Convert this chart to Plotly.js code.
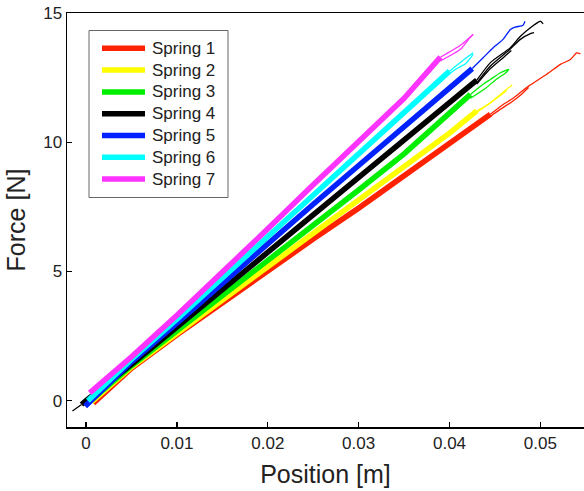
<!DOCTYPE html>
<html>
<head>
<meta charset="utf-8">
<script src="https://cdn.plot.ly/plotly-3.0.1.min.js"></script>
<style>html,body{margin:0;padding:0;background:#fff;overflow:hidden}#chart{width:584px;height:491px}</style>
</head>
<body>
<div id="chart"></div>
<script>
// Series names and colours
const springNames = ["Spring 1","Spring 2","Spring 3","Spring 4","Spring 5","Spring 6","Spring 7"];
const springColors = ["#ff2200","#ffff00","#00ee00","#000000","#0022ff","#00ffff","#ff33ff"];

// Spring 1 (main band + thin tail strands)
const s1X = [0.0008,0.005,0.010,0.015,0.020,0.025,0.030,0.035,0.040,0.0445];
const s1Y = [-0.1,1.25,2.55,3.8,5.0,6.25,7.45,8.7,9.95,11.08];
const s1TailX = [0.0445,0.0459,0.0470,0.0478,0.0487,0.0507,0.0522,0.0533,0.0540,0.0544];
const s1TailY = [11.08,11.46,11.70,11.92,12.17,12.63,13.01,13.20,13.46,13.42];
const s1BackX = [0.0487,0.0478,0.0468,0.0455,0.0445];
const s1BackY = [12.12,11.82,11.55,11.25,11.00];

// Spring 2
const s2X = [0.0006,0.005,0.010,0.015,0.020,0.025,0.030,0.035,0.040,0.043];
const s2Y = [-0.05,1.3,2.6,3.9,5.2,6.45,7.75,9.05,10.35,11.21];
const s2TailX = [0.043,0.0445,0.0456,0.0463,0.0469];
const s2TailY = [11.21,11.53,11.85,12.05,12.21];
const s2BackX = [0.0463,0.0452,0.0440,0.043];
const s2BackY = [12.0,11.7,11.4,11.15];

// Spring 3
const s3X = [0.0005,0.005,0.010,0.015,0.020,0.025,0.030,0.035,0.040,0.0423];
const s3Y = [0.0,1.35,2.7,4.05,5.45,6.8,8.15,9.55,11.1,11.85];
const s3TailX = [0.0423,0.0437,0.0445,0.0456,0.0462,0.0465,0.0462,0.0452,0.0440,0.0423];
const s3TailY = [11.85,12.24,12.43,12.69,12.78,12.82,12.69,12.45,12.1,11.7];

// Spring 4
const s4X = [-0.0005,0.0,0.005,0.010,0.015,0.020,0.025,0.030,0.035,0.040,0.043];
const s4Y = [-0.15,0.0,1.4,2.85,4.3,5.75,7.2,8.6,10.05,11.55,12.4];
const s4StartX = [-0.0015,-0.0005];
const s4StartY = [-0.4,-0.15];
const s4TailX = [0.043,0.0445,0.0467,0.0478,0.0489,0.0500,0.0503];
const s4TailY = [12.4,13.08,13.66,14.10,14.43,14.68,14.58];
const s4BackX = [0.043,0.0445,0.0465,0.0478,0.0489,0.0493];
const s4BackY = [12.3,12.95,13.55,13.98,14.20,14.24];
const s4MidX = [0.043,0.0445,0.046,0.0468];
const s4MidY = [12.25,12.85,13.3,13.55];

// Spring 5
const s5X = [-0.0001,0.005,0.010,0.015,0.020,0.025,0.030,0.035,0.040,0.0425];
const s5Y = [-0.22,1.5,3.0,4.55,6.05,7.6,9.1,10.6,12.1,12.85];
const s5TailX = [0.0425,0.0437,0.0450,0.0459,0.0467,0.0472,0.0481,0.0483];
const s5TailY = [12.85,13.27,13.72,13.98,14.36,14.45,14.53,14.68];

// Spring 6
const s6X = [0.0002,0.005,0.010,0.015,0.020,0.025,0.030,0.035,0.040];
const s6Y = [0.0,1.6,3.15,4.75,6.35,7.9,9.5,11.15,12.75];
const s6TailX = [0.040,0.0415,0.0426];
const s6TailY = [12.75,13.17,13.46];
const s6BackX = [0.0426,0.0418,0.0408,0.040];
const s6BackY = [13.40,13.05,12.85,12.65];

// Spring 7
const s7X = [0.0004,0.005,0.010,0.015,0.020,0.025,0.030,0.035,0.039];
const s7Y = [0.3,1.7,3.3,4.95,6.65,8.35,10.05,11.7,13.29];
const s7TailX = [0.039,0.0412,0.0426];
const s7TailY = [13.29,13.75,14.17];
const s7BackX = [0.0426,0.0423,0.0412,0.039];
const s7BackY = [14.17,14.07,13.6,13.15];

// Axis ticks
const xTicks = [0,0.01,0.02,0.03,0.04,0.05];
const xTickText = ["0","0.01","0.02","0.03","0.04","0.05"];
const yTicks = [0,5,10,15];
const yTickText = ["0","5","10","15"];

const mains = [[s1X,s1Y],[s2X,s2Y],[s3X,s3Y],[s4X,s4Y],[s5X,s5Y],[s6X,s6Y],[s7X,s7Y]];
const tails = [
  [[s1TailX,s1TailY],[s1BackX,s1BackY]],
  [[s2TailX,s2TailY],[s2BackX,s2BackY]],
  [[s3TailX,s3TailY]],
  [[s4TailX,s4TailY],[s4BackX,s4BackY],[s4MidX,s4MidY],[s4StartX,s4StartY]],
  [[s5TailX,s5TailY]],
  [[s6TailX,s6TailY],[s6BackX,s6BackY]],
  [[s7TailX,s7TailY],[s7BackX,s7BackY]]
];

const traces = [];
for (let i = 0; i < 7; i++) {
  traces.push({
    x: mains[i][0], y: mains[i][1], type: 'scatter', mode: 'lines',
    name: springNames[i], legendgroup: 'g' + i, showlegend: false,
    line: {color: springColors[i], width: 5.5, shape: 'linear'}
  });
  tails[i].forEach(function (t) {
    traces.push({
      x: t[0], y: t[1], type: 'scatter', mode: 'lines',
      name: springNames[i], legendgroup: 'g' + i, showlegend: false,
      line: {color: springColors[i], width: 1.3, shape: 'spline', smoothing: 0.6}
    });
  });
}

const font = {family: '"Liberation Sans", Arial, sans-serif', color: '#222'};

// Legend box drawn in paper coordinates (plot area: 67..584 px wide, 13..427 px tall)
const plotL = 67, plotW = 517, plotT = 13, plotH = 414;
function px2x(px) { return (px - plotL) / plotW; }
function py2y(py) { return 1 - (py - plotT) / plotH; }

const shapes = [{
  type: 'rect', xref: 'paper', yref: 'paper',
  x0: px2x(89), x1: px2x(228), y0: py2y(197.5), y1: py2y(30.5),
  line: {color: '#666', width: 1}, fillcolor: '#fff', layer: 'above'
}];
const annotations = [];
for (let i = 0; i < 7; i++) {
  const rowY = py2y(48.3 + 21.8 * i);
  shapes.push({
    type: 'line', xref: 'paper', yref: 'paper',
    x0: px2x(102), x1: px2x(145), y0: rowY, y1: rowY,
    line: {color: springColors[i], width: 5.5}, layer: 'above'
  });
  annotations.push({
    xref: 'paper', yref: 'paper', x: px2x(150), y: rowY,
    xanchor: 'left', yanchor: 'middle', showarrow: false,
    text: springNames[i], font: Object.assign({size: 17}, font)
  });
}

const layout = {
  width: 584, height: 491,
  margin: {l: 67, r: 0, t: 13, b: 64, pad: 0},
  paper_bgcolor: '#fff', plot_bgcolor: '#fff',
  font: Object.assign({size: 17}, font),
  showlegend: false,
  shapes: shapes,
  annotations: annotations,
  xaxis: {
    range: [-0.0021, 0.0548],
    tickmode: 'array', tickvals: xTicks, ticktext: xTickText,
    ticks: 'inside', ticklen: 5, tickwidth: 1.2, tickcolor: '#000',
    showline: true, linecolor: '#000', linewidth: 1.5, mirror: true,
    showgrid: false, zeroline: false,
    tickfont: Object.assign({size: 17}, font),
    title: {text: 'Position [m]', font: Object.assign({size: 25}, font), standoff: 13}
  },
  yaxis: {
    range: [-1.02, 15],
    tickmode: 'array', tickvals: yTicks, ticktext: yTickText,
    ticks: 'inside', ticklen: 5, tickwidth: 1.2, tickcolor: '#000',
    showline: true, linecolor: '#000', linewidth: 1.5, mirror: false,
    showgrid: false, zeroline: false,
    tickfont: Object.assign({size: 17}, font),
    title: {text: 'Force [N]', font: Object.assign({size: 25}, font), standoff: 10}
  }
};

Plotly.newPlot('chart', traces, layout, {displayModeBar: false, staticPlot: true});
</script>
</body>
</html>
